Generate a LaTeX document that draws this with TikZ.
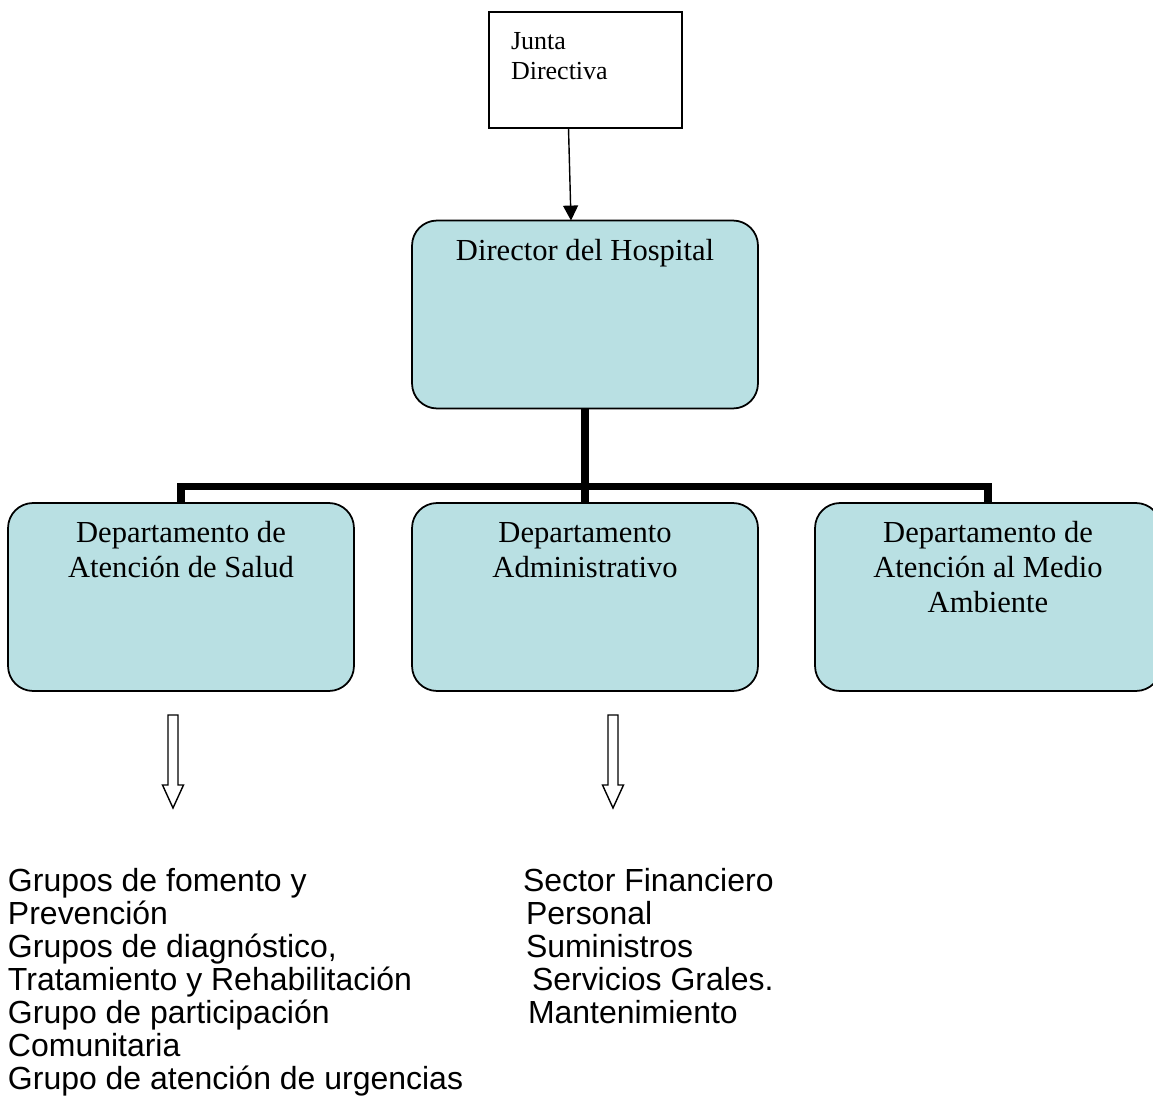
\documentclass[tikz,border=0pt]{standalone}
\usepackage{fontspec}
\setmainfont{Liberation Serif}
\setsansfont{Liberation Sans}
\usetikzlibrary{calc,arrows.meta}
\definecolor{boxblue}{RGB}{185,224,227}

\begin{document}
\begin{tikzpicture}[x=0.02cm, y=-0.02cm, every node/.style={inner sep=0pt, outer sep=0pt},
    unit/.style={draw, line width=1pt, fill=boxblue, rounded corners=0.5cm, minimum width=6.92cm, minimum height=3.76cm},
    title/.style={font=\fontsize{17.4}{19.9}\selectfont, align=center, anchor=base},
    item/.style={font=\sffamily\fontsize{18.2}{20.5}\selectfont, anchor=base west},
    tree/.style={line width=4pt},
    hollow/.style={draw, line width=0.8pt, fill=white}]

    \path[use as bounding box, clip] (0,0) rectangle (1153,1115);

    % Nodes (multi-line texts sit on their last baseline)
    \node[draw, line width=1pt, minimum width=3.86cm, minimum height=2.32cm] (junta) at (585.5,70) {};
    \node[anchor=base west, align=left, font=\fontsize{14.8}{17.6}\selectfont] (juntatext) at (511,80) {Junta\\Directiva};

    \node[unit] (director) at (585,314.5) {};
    \node[title] (directortext) at (585,260) {Director del Hospital};

    \node[unit] (salud) at (181,597) {};
    \node[title] (saludtext) at (181,577) {Departamento de\\Atención de Salud};
    \node[unit] (admin) at (585,597) {};
    \node[title] (admintext) at (585,577) {Departamento\\Administrativo};
    \node[unit] (ambiente) at (988,597) {};
    \node[title] (ambientetext) at (988,612) {Departamento de\\Atención al Medio\\Ambiente};

    % Edges
    \draw[line width=0.8pt, -{Triangle[length=8.5pt, width=8.5pt]}] ($(junta.south)+(-17,0)$) -- ($(director.north)+(-14,0)$);
    \coordinate (bar) at ($(director.south)+(0,78)$);
    \draw[tree] (director.south) -- (bar);
    \draw[tree] (salud.north) |- (bar) -| (ambiente.north);
    \draw[tree] (admin.north) -- (admin.north |- bar);

    % Hollow arrows below the departments
    \draw[hollow, shift={(173,715)}] (-5,0) -- (5,0) -- (5,70) -- (10.5,70) -- (0,93) -- (-10.5,70) -- (-5,70) -- cycle;
    \draw[hollow, shift={(613,715)}] (-5,0) -- (5,0) -- (5,70) -- (10.5,70) -- (0,93) -- (-10.5,70) -- (-5,70) -- cycle;

    % Groups under each department
    \node[item] (g1) at (8,891) {Grupos de fomento y};
    \node[item] (g2) at (8,924) {Prevención};
    \node[item] (g3) at (8,957) {Grupos de diagnóstico,};
    \node[item] (g4) at (8,990) {Tratamiento y Rehabilitación};
    \node[item] (g5) at (8,1023) {Grupo de participación};
    \node[item] (g6) at (8,1056) {Comunitaria};
    \node[item] (g7) at (8,1089) {Grupo de atención de urgencias};

    \node[item] (s1) at (523,891) {Sector Financiero};
    \node[item] (s2) at (526,924) {Personal};
    \node[item] (s3) at (526,957) {Suministros};
    \node[item] (s4) at (532,990) {Servicios Grales.};
    \node[item] (s5) at (528,1023) {Mantenimiento};

\end{tikzpicture}
\end{document}
